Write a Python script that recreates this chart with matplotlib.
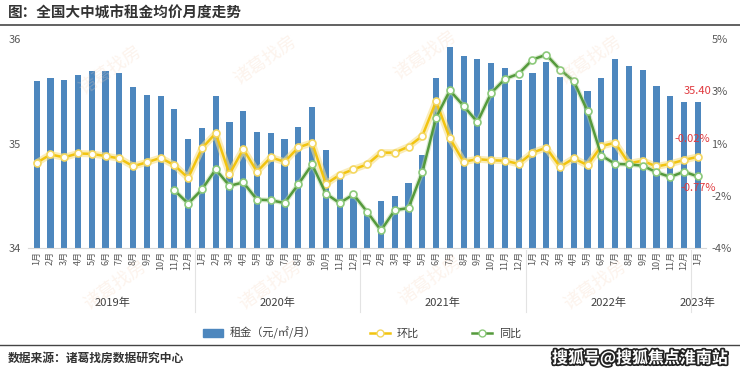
import numpy as np
import matplotlib
matplotlib.use("Agg")
import matplotlib.pyplot as plt
import matplotlib.transforms as mtransforms
import matplotlib.patheffects as pe
from matplotlib.lines import Line2D
from matplotlib.patches import Patch

plt.rcParams['font.family'] = ['Noto Sans CJK SC', 'DejaVu Sans']

# ---------------- data ----------------
years = ['2019年', '2020年', '2021年', '2022年', '2023年']
month_labels = [f'{m}月' for m in range(1, 13)] * 4 + ['1月']

rent = [35.60, 35.63, 35.61, 35.66, 35.69, 35.69, 35.67, 35.54, 35.46, 35.45, 35.33, 35.04,
        35.15, 35.45, 35.21, 35.31, 35.11, 35.10, 35.04, 35.16, 35.35, 34.94, 34.68, 34.48,
        34.33, 34.45, 34.50, 34.62, 34.89, 35.63, 35.92, 35.84, 35.81, 35.77, 35.72, 35.61,
        35.67, 35.78, 35.64, 35.60, 35.50, 35.63, 35.81, 35.74, 35.70, 35.55, 35.45, 35.40,
        35.40]

mom = [0.26, 0.58, 0.47, 0.62, 0.60, 0.52, 0.43, 0.13, 0.28, 0.45, 0.17, -0.32,
       0.82, 1.39, -0.17, 0.79, -0.08, 0.47, 0.30, 0.85, 1.03, -0.55, -0.20, 0.01,
       0.20, 0.65, 0.65, 0.88, 1.29, 2.61, 1.20, 0.30, 0.40, 0.36, 0.34, 0.22,
       0.65, 0.84, 0.11, 0.43, 0.17, 0.90, 1.03, 0.24, 0.34, 0.12, 0.22, 0.37,
       0.49]

yoy = [np.nan] * 10 + [
    -0.79, -1.30,
    -0.76, 0.01, -0.62, -0.49, -1.15, -1.17, -1.28, -0.56, 0.20, -0.92, -1.28, -0.95,
    -1.62, -2.33, -1.55, -1.47, -0.10, 1.99, 3.03, 2.44, 1.82, 2.93, 3.47, 3.67,
    4.21, 4.40, 3.83, 3.39, 2.23, 0.54, 0.22, 0.20, 0.15, -0.10, -0.28, -0.08,
    -0.26]

right_ticks = [5, 3, 1, -1, -3]
right_labels = ['5%', '3%', '1%', '-2%', '-4%']
last_rent_label = '35.40'
last_mom_label = '-0.02%'
last_yoy_label = '-0.77%'

# ---------------- figure ----------------
W, H = 740, 373
fig = plt.figure(figsize=(W / 100, H / 100), dpi=100)
fig.patch.set_facecolor('white')

def fx(px):
    return px / W

def fy(py):
    return 1 - py / H

ax = fig.add_axes([fx(28), fy(248), fx(706 - 28), (248 - 39) / H])
x = np.arange(len(rent))

# faint background watermarks
for (wx, wy) in [(110, 70), (265, 60), (425, 55), (590, 60),
                 (115, 285), (270, 285), (430, 280), (595, 285)]:
    fig.text(fx(wx), fy(wy), '诸葛找房', color='#f6d2b8', alpha=0.25, fontsize=13,
             rotation=35, ha='center', va='center', zorder=0)

ax.bar(x, rent, width=0.45, color='#4d87be', zorder=2)
ax.set_ylim(34, 36)
ax.set_xlim(-0.63, 48.6)
ax.set_yticks([34, 35, 36])
ax.tick_params(axis='y', length=0, labelsize=8, labelcolor='#595959', pad=5)
ax.set_xticks(x)
ax.set_xticklabels(month_labels, rotation=90, fontsize=6.5, color='#595959')
ax.tick_params(axis='x', length=0, pad=2)
for s in ['top', 'right', 'left']:
    ax.spines[s].set_visible(False)
ax.spines['bottom'].set_color('#d9d9d9')
ax.patch.set_alpha(0)

ax2 = ax.twinx()
ax2.set_ylim(-3, 5)
ax2.set_yticks(right_ticks)
ax2.set_yticklabels(right_labels)
ax2.tick_params(axis='y', length=0, labelsize=8, labelcolor='#595959', pad=4)
for s in ['top', 'right', 'left', 'bottom']:
    ax2.spines[s].set_visible(False)

yellow = '#f2c40f'
green = '#559a3c'
ax2.plot(x, mom, color='#f7e08a', lw=5, alpha=0.6, zorder=3, solid_capstyle='round')
ax2.plot(x, mom, color=yellow, lw=1.8, marker='o', ms=5, mfc='white', mec='#f4d760',
         mew=1.2, zorder=4)
ax2.plot(x, yoy, color='#b5d6a0', lw=3.5, alpha=0.5, zorder=3)
ax2.plot(x, yoy, color=green, lw=1.8, marker='o', ms=5, mfc='white', mec='#8cc97a',
         mew=1.2, zorder=4)

red = '#e0393e'
ax.annotate(last_rent_label, xy=(x[-1], rent[-1]), xytext=(0, 4), textcoords='offset points',
            ha='center', va='bottom', color=red, fontsize=8)
ax2.annotate(last_mom_label, xy=(x[-1], mom[-1]), xytext=(9, 9), textcoords='offset points',
             ha='right', va='bottom', color=red, fontsize=8)
ax2.annotate(last_yoy_label, xy=(x[-1], yoy[-1]), xytext=(0, -5), textcoords='offset points',
             ha='center', va='top', color=red, fontsize=8)

# year labels and separators below the axis
trans = mtransforms.blended_transform_factory(ax.transData, fig.transFigure)
for sep in [11.5, 23.5, 35.5, 47.5]:
    ax.add_line(Line2D([sep, sep], [fy(250), fy(312)], transform=trans, color='#e3e3e3',
                       lw=0.8, clip_on=False))
for i, yl in enumerate(years):
    cx = 5.5 + 12 * i if i < 4 else 48
    ax.text(cx, fy(303), yl, transform=trans, ha='center', va='center', fontsize=8,
            color='#404040')

# legend
handles = [Patch(color='#4d87be'),
           Line2D([], [], color=yellow, lw=1.8, marker='o', ms=5, mfc='white', mec='#f4d760'),
           Line2D([], [], color=green, lw=1.8, marker='o', ms=5, mfc='white', mec='#8cc97a')]
fig.legend(handles, ['租金（元/㎡/月）', '环比', '同比'], loc='center',
           bbox_to_anchor=(fx(362), fy(333)), ncol=3, frameon=False, fontsize=8,
           columnspacing=4.8, handlelength=1.8, handletextpad=0.6, labelcolor='#404040')

# title and footer
fig.text(fx(8), fy(13), '图：全国大中城市租金均价月度走势', fontsize=10.5, fontweight='bold',
         color='#333333', ha='left', va='center')
fig.add_artist(Line2D([0, 1], [fy(25), fy(25)], color='#555555', lw=1.3))
fig.add_artist(Line2D([0, 1], [fy(345), fy(345)], color='#444444', lw=1.0))
fig.text(fx(8), fy(358), '数据来源：诸葛找房数据研究中心', fontsize=8.5, fontweight='bold',
         color='#333333', ha='left', va='center')
fig.text(fx(640), fy(358), '搜狐号@搜狐焦点淮南站', fontsize=11.5, fontweight='bold',
         color='white', ha='center', va='center',
         path_effects=[pe.withStroke(linewidth=2.5, foreground='#222222')])

fig.savefig('out.png', dpi=100)
